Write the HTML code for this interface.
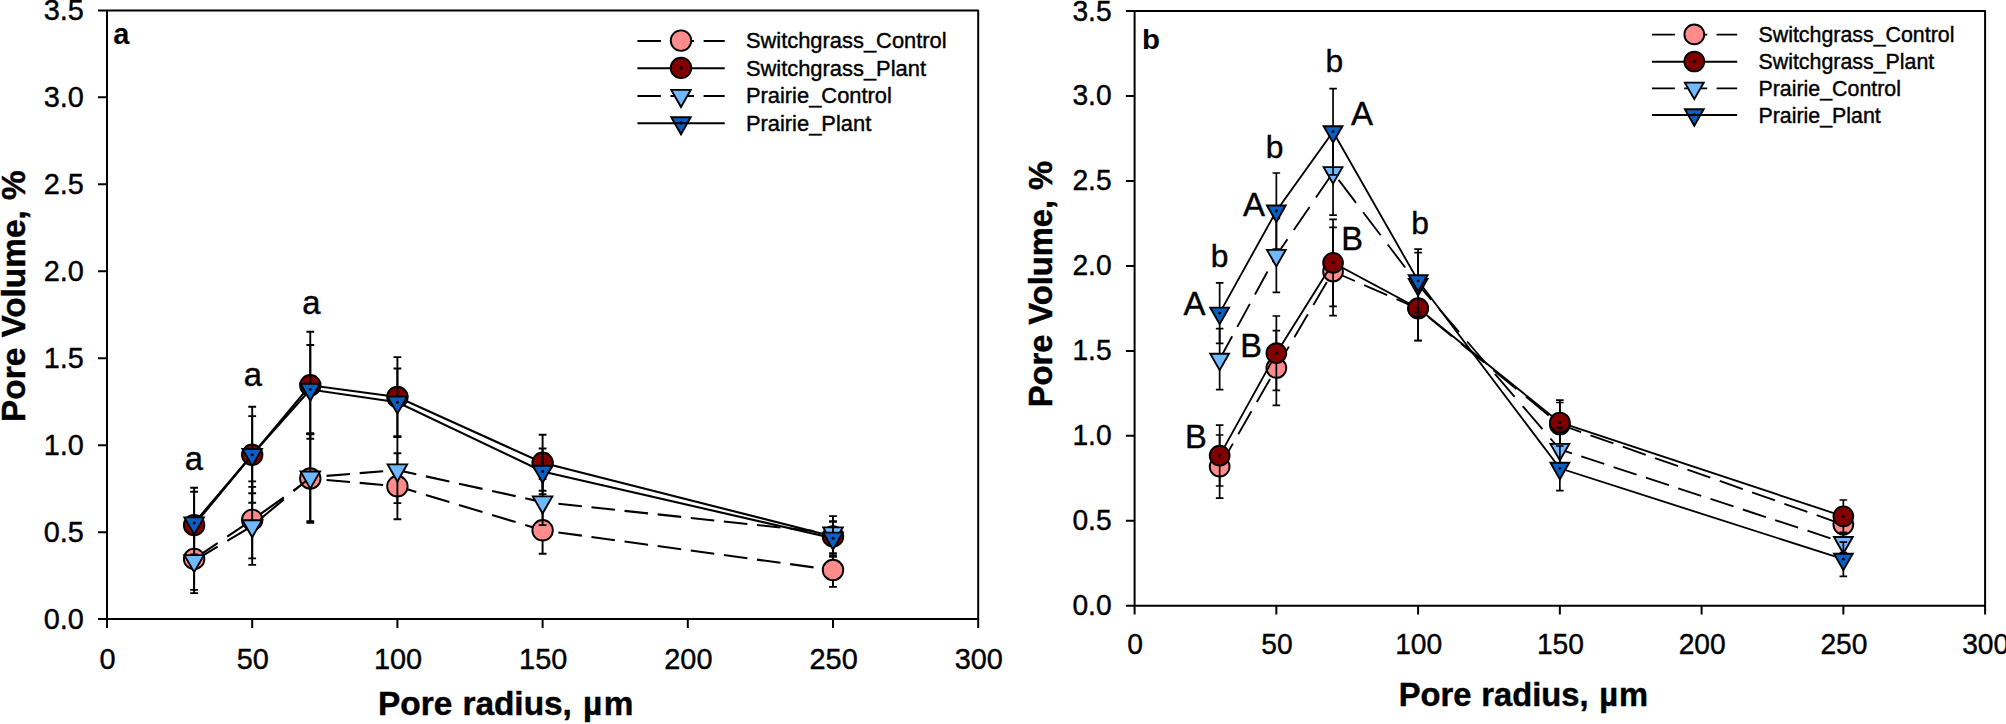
<!DOCTYPE html>
<html lang="en"><head><meta charset="utf-8"><title>Pore volume vs pore radius</title>
<style>html,body{margin:0;padding:0;background:#fff;overflow:hidden}svg{display:block;font-family:"Liberation Sans",Arial,Helvetica,sans-serif}</style></head><body>
<svg width="2006" height="724" viewBox="0 0 2006 724">
<rect width="2006" height="724" fill="#fff"/>
<g>
<path d="M107 10.4H978.2V619.1H107ZM98 619.1H107M98 532.14H107M98 445.19H107M98 358.23H107M98 271.27H107M98 184.31H107M98 97.36H107M98 10.4H107M107 619.1V628.1M252.2 619.1V628.1M397.4 619.1V628.1M542.6 619.1V628.1M687.8 619.1V628.1M833 619.1V628.1M978.2 619.1V628.1" fill="none" stroke="#000" stroke-width="2" stroke-linejoin="round"/>
<g font-size="28.9" fill="#000" stroke="#000" stroke-width="0.4">
<text transform="translate(83.8 628.6) scale(1 1.04)" text-anchor="end">0.0</text>
<text transform="translate(83.8 541.64) scale(1 1.04)" text-anchor="end">0.5</text>
<text transform="translate(83.8 454.69) scale(1 1.04)" text-anchor="end">1.0</text>
<text transform="translate(83.8 367.73) scale(1 1.04)" text-anchor="end">1.5</text>
<text transform="translate(83.8 280.77) scale(1 1.04)" text-anchor="end">2.0</text>
<text transform="translate(83.8 193.81) scale(1 1.04)" text-anchor="end">2.5</text>
<text transform="translate(83.8 106.86) scale(1 1.04)" text-anchor="end">3.0</text>
<text transform="translate(83.8 19.9) scale(1 1.04)" text-anchor="end">3.5</text>
<text transform="translate(107.6 668.9) scale(1 1.04)" text-anchor="middle">0</text>
<text transform="translate(252.8 668.9) scale(1 1.04)" text-anchor="middle">50</text>
<text transform="translate(398 668.9) scale(1 1.04)" text-anchor="middle">100</text>
<text transform="translate(543.2 668.9) scale(1 1.04)" text-anchor="middle">150</text>
<text transform="translate(688.4 668.9) scale(1 1.04)" text-anchor="middle">200</text>
<text transform="translate(833.6 668.9) scale(1 1.04)" text-anchor="middle">250</text>
<text transform="translate(978.8 668.9) scale(1 1.04)" text-anchor="middle">300</text>
</g>
<text x="378.1" y="715.2" font-size="33.4" font-weight="bold" stroke="#000" stroke-width="0.45" word-spacing="0.8">Pore radius, <tspan dx="1">µ</tspan><tspan dx="1.5">m</tspan></text>
<text transform="translate(25.2 421.9) rotate(-90)" font-size="33.4" font-weight="bold" stroke="#000" stroke-width="0.45" word-spacing="0.8">Pore Volume, %</text>
<text transform="translate(113.2 43.8) scale(1 1)" font-size="29" font-weight="bold">a</text>
<g>
<path d="M194.12 558.9L217.62 543.12M227.23 536.67L250.73 520.89M260.34 514.1L283.84 497.35M293.45 490.5L310.28 478.5M310.28 478.5L316.95 479.1M326.56 479.96L350.06 482.06M359.67 482.92L383.17 485.03M392.78 485.89L397.4 486.3M397.4 486.3L416.28 492.02M425.89 494.93L449.39 502.05M459 504.97L482.5 512.09M492.11 515L515.61 522.12M525.22 525.03L542.6 530.3M542.6 530.3L548.72 531.14M558.33 532.45L581.83 535.66M591.44 536.98L614.94 540.19M624.55 541.5L648.05 544.72M657.66 546.03L681.16 549.24M690.77 550.56L714.27 553.77M723.88 555.08L747.38 558.3M756.99 559.61L780.49 562.82M790.1 564.14L813.6 567.35M823.21 568.66L833 570" fill="none" stroke="#000" stroke-width="2.1"/>
<path d="M194.12 527.9V589.9M190.22 527.9H198.02M190.22 589.9H198.02M252.2 481.4V558.4M248.3 481.4H256.1M248.3 558.4H256.1M310.28 434.2V522.8M306.38 434.2H314.18M306.38 522.8H314.18M397.4 453.3V519.3M393.5 453.3H401.3M393.5 519.3H401.3M542.6 506.9V553.7M538.7 506.9H546.5M538.7 553.7H546.5M833 553.1V586.9M829.1 553.1H836.9M829.1 586.9H836.9" fill="none" stroke="#000" stroke-width="1.9"/>
<circle cx="194.12" cy="558.9" r="10.25" fill="#ff8c8c" stroke="#000" stroke-width="1.9"/>
<circle cx="252.2" cy="519.9" r="10.25" fill="#ff8c8c" stroke="#000" stroke-width="1.9"/>
<circle cx="310.28" cy="478.5" r="10.25" fill="#ff8c8c" stroke="#000" stroke-width="1.9"/>
<circle cx="397.4" cy="486.3" r="10.25" fill="#ff8c8c" stroke="#000" stroke-width="1.9"/>
<circle cx="542.6" cy="530.3" r="10.25" fill="#ff8c8c" stroke="#000" stroke-width="1.9"/>
<circle cx="833" cy="570" r="10.25" fill="#ff8c8c" stroke="#000" stroke-width="1.9"/>
</g>
<g>
<path d="M194.12 525.2L252.2 454.8L310.28 385.3L397.4 397L542.6 462.8L833 536.4" fill="none" stroke="#000" stroke-width="2.1"/>
<path d="M194.12 487.8V562.6M190.22 487.8H198.02M190.22 562.6H198.02M252.2 406.8V502.8M248.3 406.8H256.1M248.3 502.8H256.1M310.28 331.8V438.8M306.38 331.8H314.18M306.38 438.8H314.18M397.4 357.1V436.9M393.5 357.1H401.3M393.5 436.9H401.3M542.6 434.8V490.8M538.7 434.8H546.5M538.7 490.8H546.5M833 516.1V556.7M829.1 516.1H836.9M829.1 556.7H836.9" fill="none" stroke="#000" stroke-width="1.9"/>
<circle cx="194.12" cy="525.2" r="10.25" fill="#800000" stroke="#000" stroke-width="1.9"/><circle cx="194.12" cy="525.2" r="1.5" fill="#000"/>
<circle cx="252.2" cy="454.8" r="10.25" fill="#800000" stroke="#000" stroke-width="1.9"/><circle cx="252.2" cy="454.8" r="1.5" fill="#000"/>
<circle cx="310.28" cy="385.3" r="10.25" fill="#800000" stroke="#000" stroke-width="1.9"/><circle cx="310.28" cy="385.3" r="1.5" fill="#000"/>
<circle cx="397.4" cy="397" r="10.25" fill="#800000" stroke="#000" stroke-width="1.9"/><circle cx="397.4" cy="397" r="1.5" fill="#000"/>
<circle cx="542.6" cy="462.8" r="10.25" fill="#800000" stroke="#000" stroke-width="1.9"/><circle cx="542.6" cy="462.8" r="1.5" fill="#000"/>
<circle cx="833" cy="536.4" r="10.25" fill="#800000" stroke="#000" stroke-width="1.9"/><circle cx="833" cy="536.4" r="1.5" fill="#000"/>
</g>
<g>
<path d="M194.12 560.8L217.62 546.68M227.23 540.9L250.73 526.78M260.34 519.07L283.84 499.37M293.45 491.31L310.28 477.2M310.28 477.2L316.95 476.66M326.56 475.87L350.06 473.96M359.67 473.17L383.17 471.26M392.78 470.48L397.4 470.1M397.4 470.1L416.28 474.26M425.89 476.38L449.39 481.56M459 483.68L482.5 488.85M492.11 490.97L515.61 496.15M525.22 498.27L542.6 502.1M542.6 502.1L548.72 502.75M558.33 503.78L581.83 506.29M591.44 507.31L614.94 509.82M624.55 510.85L648.05 513.36M657.66 514.38L681.16 516.89M690.77 517.92L714.27 520.43M723.88 521.45L747.38 523.96M756.99 524.99L780.49 527.49M790.1 528.52L813.6 531.03M823.21 532.05L833 533.1" fill="none" stroke="#000" stroke-width="2.1"/>
<path d="M194.12 528.5V593.1M190.22 528.5H198.02M190.22 593.1H198.02M252.2 486.9V564.9M248.3 486.9H256.1M248.3 564.9H256.1M310.28 433.3V521.1M306.38 433.3H314.18M306.38 521.1H314.18M397.4 437.1V503.1M393.5 437.1H401.3M393.5 503.1H401.3M542.6 479.1V525.1M538.7 479.1H546.5M538.7 525.1H546.5M833 521.5V544.7M829.1 521.5H836.9M829.1 544.7H836.9" fill="none" stroke="#000" stroke-width="1.9"/>
<path d="M184.37 555.1L203.87 555.1L194.12 572.2Z" fill="#70b8ff" stroke="#000" stroke-width="1.9" stroke-linejoin="miter"/>
<path d="M242.45 520.2L261.95 520.2L252.2 537.3Z" fill="#70b8ff" stroke="#000" stroke-width="1.9" stroke-linejoin="miter"/>
<path d="M300.53 471.5L320.03 471.5L310.28 488.6Z" fill="#70b8ff" stroke="#000" stroke-width="1.9" stroke-linejoin="miter"/>
<path d="M387.65 464.4L407.15 464.4L397.4 481.5Z" fill="#70b8ff" stroke="#000" stroke-width="1.9" stroke-linejoin="miter"/>
<path d="M532.85 496.4L552.35 496.4L542.6 513.5Z" fill="#70b8ff" stroke="#000" stroke-width="1.9" stroke-linejoin="miter"/>
<path d="M823.25 527.4L842.75 527.4L833 544.5Z" fill="#70b8ff" stroke="#000" stroke-width="1.9" stroke-linejoin="miter"/>
</g>
<g>
<path d="M194.12 523.1L252.2 454.7L310.28 389.5L397.4 402.3L542.6 471.4L833 538.3" fill="none" stroke="#000" stroke-width="2.1"/>
<path d="M194.12 491.8V554.4M190.22 491.8H198.02M190.22 554.4H198.02M252.2 416.1V493.3M248.3 416.1H256.1M248.3 493.3H256.1M310.28 345V434M306.38 345H314.18M306.38 434H314.18M397.4 368.5V436.1M393.5 368.5H401.3M393.5 436.1H401.3M542.6 448.5V494.3M538.7 448.5H546.5M538.7 494.3H546.5M833 521.5V555.1M829.1 521.5H836.9M829.1 555.1H836.9" fill="none" stroke="#000" stroke-width="1.9"/>
<path d="M184.37 517.4L203.87 517.4L194.12 534.5Z" fill="#0a5fc2" stroke="#000" stroke-width="1.9" stroke-linejoin="miter"/><circle cx="194.12" cy="523.1" r="1.5" fill="#000"/>
<path d="M242.45 449L261.95 449L252.2 466.1Z" fill="#0a5fc2" stroke="#000" stroke-width="1.9" stroke-linejoin="miter"/><circle cx="252.2" cy="454.7" r="1.5" fill="#000"/>
<path d="M300.53 383.8L320.03 383.8L310.28 400.9Z" fill="#0a5fc2" stroke="#000" stroke-width="1.9" stroke-linejoin="miter"/><circle cx="310.28" cy="389.5" r="1.5" fill="#000"/>
<path d="M387.65 396.6L407.15 396.6L397.4 413.7Z" fill="#0a5fc2" stroke="#000" stroke-width="1.9" stroke-linejoin="miter"/><circle cx="397.4" cy="402.3" r="1.5" fill="#000"/>
<path d="M532.85 465.7L552.35 465.7L542.6 482.8Z" fill="#0a5fc2" stroke="#000" stroke-width="1.9" stroke-linejoin="miter"/><circle cx="542.6" cy="471.4" r="1.5" fill="#000"/>
<path d="M823.25 532.6L842.75 532.6L833 549.7Z" fill="#0a5fc2" stroke="#000" stroke-width="1.9" stroke-linejoin="miter"/><circle cx="833" cy="538.3" r="1.5" fill="#000"/>
</g>
<g font-size="21.9" stroke="#000" stroke-width="0.4">
<path d="M637.4 41L660.9 41M670.51 41L694.01 41M703.62 41L724.7 41" fill="none" stroke="#000" stroke-width="2.1"/>
<circle cx="681" cy="40.6" r="10.25" fill="#ff8c8c" stroke="#000" stroke-width="1.9"/>
<text x="745.9" y="48.3">Switchgrass_Control</text>
<path d="M637.4 68.3H724.7" fill="none" stroke="#000" stroke-width="2.1"/>
<circle cx="681" cy="67.9" r="10.25" fill="#800000" stroke="#000" stroke-width="1.9"/><circle cx="681" cy="67.9" r="1.5" fill="#000"/>
<text x="745.9" y="75.6">Switchgrass_Plant</text>
<path d="M637.4 96L660.9 96M670.51 96L694.01 96M703.62 96L724.7 96" fill="none" stroke="#000" stroke-width="2.1"/>
<path d="M671.25 89.9L690.75 89.9L681 107Z" fill="#70b8ff" stroke="#000" stroke-width="1.9" stroke-linejoin="miter"/>
<text x="745.9" y="103.3">Prairie_Control</text>
<path d="M671.25 117.2L690.75 117.2L681 134.3Z" fill="#0a5fc2" stroke="#000" stroke-width="1.9" stroke-linejoin="miter"/><circle cx="681" cy="122.9" r="1.5" fill="#000"/>
<path d="M637.4 123.3H724.7" fill="none" stroke="#000" stroke-width="2.1"/>
<text x="745.9" y="130.6">Prairie_Plant</text>
</g>
<text x="193.8" y="469.9" font-size="32.8" text-anchor="middle" stroke="#000" stroke-width="0.4">a</text>
<text x="252.8" y="385.7" font-size="32.8" text-anchor="middle" stroke="#000" stroke-width="0.4">a</text>
<text x="311.3" y="314.4" font-size="32.8" text-anchor="middle" stroke="#000" stroke-width="0.4">a</text>
</g>
<g>
<path d="M1134.6 11H1985.1V605.8H1134.6ZM1125.9 605.8H1134.6M1125.9 520.83H1134.6M1125.9 435.86H1134.6M1125.9 350.89H1134.6M1125.9 265.91H1134.6M1125.9 180.94H1134.6M1125.9 95.97H1134.6M1125.9 11H1134.6M1134.6 605.8V614.5M1276.35 605.8V614.5M1418.1 605.8V614.5M1559.85 605.8V614.5M1701.6 605.8V614.5M1843.35 605.8V614.5M1985.1 605.8V614.5" fill="none" stroke="#000" stroke-width="2" stroke-linejoin="round"/>
<g font-size="28.2" fill="#000" stroke="#000" stroke-width="0.4">
<text transform="translate(1111.6 615.3) scale(1 1.03)" text-anchor="end">0.0</text>
<text transform="translate(1111.6 530.33) scale(1 1.03)" text-anchor="end">0.5</text>
<text transform="translate(1111.6 445.36) scale(1 1.03)" text-anchor="end">1.0</text>
<text transform="translate(1111.6 360.39) scale(1 1.03)" text-anchor="end">1.5</text>
<text transform="translate(1111.6 275.41) scale(1 1.03)" text-anchor="end">2.0</text>
<text transform="translate(1111.6 190.44) scale(1 1.03)" text-anchor="end">2.5</text>
<text transform="translate(1111.6 105.47) scale(1 1.03)" text-anchor="end">3.0</text>
<text transform="translate(1111.6 20.5) scale(1 1.03)" text-anchor="end">3.5</text>
<text transform="translate(1135.2 653.9) scale(1 1.03)" text-anchor="middle">0</text>
<text transform="translate(1276.95 653.9) scale(1 1.03)" text-anchor="middle">50</text>
<text transform="translate(1418.7 653.9) scale(1 1.03)" text-anchor="middle">100</text>
<text transform="translate(1560.45 653.9) scale(1 1.03)" text-anchor="middle">150</text>
<text transform="translate(1702.2 653.9) scale(1 1.03)" text-anchor="middle">200</text>
<text transform="translate(1843.95 653.9) scale(1 1.03)" text-anchor="middle">250</text>
<text transform="translate(1985.7 653.9) scale(1 1.03)" text-anchor="middle">300</text>
</g>
<text x="1398.8" y="705.6" font-size="32.7" font-weight="bold" stroke="#000" stroke-width="0.45" word-spacing="0.8">Pore radius, <tspan dx="0.8">µ</tspan><tspan dx="1">m</tspan></text>
<text transform="translate(1052.1 407.2) rotate(-90)" font-size="32.7" font-weight="bold" stroke="#000" stroke-width="0.45" word-spacing="0.8">Pore Volume, %</text>
<text transform="translate(1142 48.8) scale(1 0.93)" font-size="29.4" font-weight="bold">b</text>
<g>
<path d="M1219.65 466.6L1232.88 443.6M1238.24 434.28L1251.46 411.28M1256.82 401.96L1270.05 378.96M1275.41 369.64L1276.35 368M1276.35 368L1288.9 346.64M1294.38 337.32L1307.89 314.32M1313.37 305L1326.88 282M1332.36 272.68L1333.05 271.5M1333.05 271.5L1354.87 281.02M1364.19 285.08L1387.19 295.12M1396.51 299.18L1418.1 308.6M1418.1 308.6L1419.51 309.75M1428.83 317.37L1451.83 336.18M1461.15 343.8L1484.15 362.6M1493.47 370.23L1516.47 389.03M1525.79 396.65L1548.79 415.46M1558.11 423.08L1559.85 424.5M1559.85 424.5L1581.11 432.01M1590.43 435.3L1613.43 443.42M1622.75 446.71L1645.75 454.83M1655.07 458.12L1678.07 466.24M1687.39 469.53L1710.39 477.65M1719.71 480.94L1742.71 489.07M1752.03 492.36L1775.03 500.48M1784.35 503.77L1807.35 511.89M1816.67 515.18L1839.67 523.3" fill="none" stroke="#000" stroke-width="1.85"/>
<path d="M1219.65 435V498.2M1215.85 435H1223.45M1215.85 498.2H1223.45M1276.35 330.6V405.4M1272.55 330.6H1280.15M1272.55 405.4H1280.15M1333.05 227.4V315.6M1329.25 227.4H1336.85M1329.25 315.6H1336.85M1418.1 276.6V340.6M1414.3 276.6H1421.9M1414.3 340.6H1421.9M1559.85 402.5V446.5M1556.05 402.5H1563.65M1556.05 446.5H1563.65M1843.35 512.6V536.6M1839.55 512.6H1847.15M1839.55 536.6H1847.15" fill="none" stroke="#000" stroke-width="1.7"/>
<circle cx="1219.65" cy="466.6" r="9.9" fill="#ff8c8c" stroke="#000" stroke-width="1.9"/>
<circle cx="1276.35" cy="368" r="9.9" fill="#ff8c8c" stroke="#000" stroke-width="1.9"/>
<circle cx="1333.05" cy="271.5" r="9.9" fill="#ff8c8c" stroke="#000" stroke-width="1.9"/>
<circle cx="1418.1" cy="308.6" r="9.9" fill="#ff8c8c" stroke="#000" stroke-width="1.9"/>
<circle cx="1559.85" cy="424.5" r="9.9" fill="#ff8c8c" stroke="#000" stroke-width="1.9"/>
<circle cx="1843.35" cy="524.6" r="9.9" fill="#ff8c8c" stroke="#000" stroke-width="1.9"/>
</g>
<g>
<path d="M1219.65 455.6L1276.35 353.2L1333.05 262.8L1418.1 308.2L1559.85 422.5L1843.35 516.3" fill="none" stroke="#000" stroke-width="1.85"/>
<path d="M1219.65 425.2V486M1215.85 425.2H1223.45M1215.85 486H1223.45M1276.35 316V390.4M1272.55 316H1280.15M1272.55 390.4H1280.15M1333.05 219.3V306.3M1329.25 219.3H1336.85M1329.25 306.3H1336.85M1418.1 275.9V340.5M1414.3 275.9H1421.9M1414.3 340.5H1421.9M1559.85 400.1V444.9M1556.05 400.1H1563.65M1556.05 444.9H1563.65M1843.35 500V532.6M1839.55 500H1847.15M1839.55 532.6H1847.15" fill="none" stroke="#000" stroke-width="1.7"/>
<circle cx="1219.65" cy="455.6" r="9.9" fill="#800000" stroke="#000" stroke-width="1.9"/><circle cx="1219.65" cy="455.6" r="1.4" fill="#000"/>
<circle cx="1276.35" cy="353.2" r="9.9" fill="#800000" stroke="#000" stroke-width="1.9"/><circle cx="1276.35" cy="353.2" r="1.4" fill="#000"/>
<circle cx="1333.05" cy="262.8" r="9.9" fill="#800000" stroke="#000" stroke-width="1.9"/><circle cx="1333.05" cy="262.8" r="1.4" fill="#000"/>
<circle cx="1418.1" cy="308.2" r="9.9" fill="#800000" stroke="#000" stroke-width="1.9"/><circle cx="1418.1" cy="308.2" r="1.4" fill="#000"/>
<circle cx="1559.85" cy="422.5" r="9.9" fill="#800000" stroke="#000" stroke-width="1.9"/><circle cx="1559.85" cy="422.5" r="1.4" fill="#000"/>
<circle cx="1843.35" cy="516.3" r="9.9" fill="#800000" stroke="#000" stroke-width="1.9"/><circle cx="1843.35" cy="516.3" r="1.4" fill="#000"/>
</g>
<g>
<path d="M1219.65 359.2L1232.21 336.2M1237.3 326.88L1249.87 303.88M1254.96 294.56L1267.52 271.56M1272.61 262.24L1276.35 255.4M1276.35 255.4L1287.42 239.24M1293.8 229.92L1309.55 206.92M1315.93 197.6L1331.68 174.6M1338.61 179.92L1356.09 202.92M1363.18 212.24L1380.66 235.24M1387.74 244.56L1405.22 267.56M1412.31 276.88L1418.1 284.5M1418.1 284.5L1431.32 299.88M1439.33 309.2L1459.1 332.2M1467.12 341.52L1486.89 364.52M1494.9 373.84L1514.67 396.84M1522.68 406.16L1542.45 429.16M1550.46 438.48L1559.85 449.4M1559.85 449.4L1571.93 453.37M1581.25 456.43L1604.25 463.98M1613.57 467.04L1636.57 474.59M1645.89 477.66L1668.89 485.21M1678.21 488.27L1701.21 495.82M1710.53 498.88L1733.53 506.44M1742.85 509.5L1765.85 517.05M1775.17 520.11L1798.17 527.66M1807.49 530.72L1830.49 538.28M1839.81 541.34L1843.35 542.5" fill="none" stroke="#000" stroke-width="1.85"/>
<path d="M1219.65 328.7V389.7M1215.85 328.7H1223.45M1215.85 389.7H1223.45M1276.35 218.4V292.4M1272.55 218.4H1280.15M1272.55 292.4H1280.15M1333.05 130V215.2M1329.25 130H1336.85M1329.25 215.2H1336.85M1418.1 252.7V316.3M1414.3 252.7H1421.9M1414.3 316.3H1421.9M1559.85 427.6V471.2M1556.05 427.6H1563.65M1556.05 471.2H1563.65M1843.35 532.5V552.5M1839.55 532.5H1847.15M1839.55 552.5H1847.15" fill="none" stroke="#000" stroke-width="1.7"/>
<path d="M1210.25 353.7L1229.05 353.7L1219.65 370.2Z" fill="#70b8ff" stroke="#000" stroke-width="1.9" stroke-linejoin="miter"/>
<path d="M1266.95 249.9L1285.75 249.9L1276.35 266.4Z" fill="#70b8ff" stroke="#000" stroke-width="1.9" stroke-linejoin="miter"/>
<path d="M1323.65 167.1L1342.45 167.1L1333.05 183.6Z" fill="#70b8ff" stroke="#000" stroke-width="1.9" stroke-linejoin="miter"/>
<path d="M1408.7 279L1427.5 279L1418.1 295.5Z" fill="#70b8ff" stroke="#000" stroke-width="1.9" stroke-linejoin="miter"/>
<path d="M1550.45 443.9L1569.25 443.9L1559.85 460.4Z" fill="#70b8ff" stroke="#000" stroke-width="1.9" stroke-linejoin="miter"/>
<path d="M1833.95 537L1852.75 537L1843.35 553.5Z" fill="#70b8ff" stroke="#000" stroke-width="1.9" stroke-linejoin="miter"/>
</g>
<g>
<path d="M1219.65 313.1L1276.35 211L1333.05 131.7L1418.1 280.8L1559.85 468.3L1843.35 559.2" fill="none" stroke="#000" stroke-width="1.85"/>
<path d="M1219.65 282.9V343.3M1215.85 282.9H1223.45M1215.85 343.3H1223.45M1276.35 173V249M1272.55 173H1280.15M1272.55 249H1280.15M1333.05 88.6V174.8M1329.25 88.6H1336.85M1329.25 174.8H1336.85M1418.1 249.2V312.4M1414.3 249.2H1421.9M1414.3 312.4H1421.9M1559.85 446V490.6M1556.05 446H1563.65M1556.05 490.6H1563.65M1843.35 542.1V576.3M1839.55 542.1H1847.15M1839.55 576.3H1847.15" fill="none" stroke="#000" stroke-width="1.7"/>
<path d="M1210.25 307.6L1229.05 307.6L1219.65 324.1Z" fill="#0a5fc2" stroke="#000" stroke-width="1.9" stroke-linejoin="miter"/><circle cx="1219.65" cy="313.1" r="1.4" fill="#000"/>
<path d="M1266.95 205.5L1285.75 205.5L1276.35 222Z" fill="#0a5fc2" stroke="#000" stroke-width="1.9" stroke-linejoin="miter"/><circle cx="1276.35" cy="211" r="1.4" fill="#000"/>
<path d="M1323.65 126.2L1342.45 126.2L1333.05 142.7Z" fill="#0a5fc2" stroke="#000" stroke-width="1.9" stroke-linejoin="miter"/><circle cx="1333.05" cy="131.7" r="1.4" fill="#000"/>
<path d="M1408.7 275.3L1427.5 275.3L1418.1 291.8Z" fill="#0a5fc2" stroke="#000" stroke-width="1.9" stroke-linejoin="miter"/><circle cx="1418.1" cy="280.8" r="1.4" fill="#000"/>
<path d="M1550.45 462.8L1569.25 462.8L1559.85 479.3Z" fill="#0a5fc2" stroke="#000" stroke-width="1.9" stroke-linejoin="miter"/><circle cx="1559.85" cy="468.3" r="1.4" fill="#000"/>
<path d="M1833.95 553.7L1852.75 553.7L1843.35 570.2Z" fill="#0a5fc2" stroke="#000" stroke-width="1.9" stroke-linejoin="miter"/><circle cx="1843.35" cy="559.2" r="1.4" fill="#000"/>
</g>
<g font-size="21.36" stroke="#000" stroke-width="0.4">
<path d="M1651.9 34.6L1674.9 34.6M1684.22 34.6L1707.22 34.6M1716.54 34.6L1737.2 34.6" fill="none" stroke="#000" stroke-width="1.85"/>
<circle cx="1694.3" cy="34.4" r="9.9" fill="#ff8c8c" stroke="#000" stroke-width="1.9"/>
<text x="1758.5" y="42.2">Switchgrass_Control</text>
<path d="M1651.9 61.7H1737.2" fill="none" stroke="#000" stroke-width="1.85"/>
<circle cx="1694.3" cy="61.5" r="9.9" fill="#800000" stroke="#000" stroke-width="1.9"/><circle cx="1694.3" cy="61.5" r="1.4" fill="#000"/>
<text x="1758.5" y="69.3">Switchgrass_Plant</text>
<path d="M1651.9 88.3L1674.9 88.3M1684.22 88.3L1707.22 88.3M1716.54 88.3L1737.2 88.3" fill="none" stroke="#000" stroke-width="1.85"/>
<path d="M1684.9 82.6L1703.7 82.6L1694.3 99.1Z" fill="#70b8ff" stroke="#000" stroke-width="1.9" stroke-linejoin="miter"/>
<text x="1758.5" y="95.9">Prairie_Control</text>
<path d="M1684.9 109.3L1703.7 109.3L1694.3 125.8Z" fill="#0a5fc2" stroke="#000" stroke-width="1.9" stroke-linejoin="miter"/><circle cx="1694.3" cy="114.8" r="1.4" fill="#000"/>
<path d="M1651.9 115H1737.2" fill="none" stroke="#000" stroke-width="1.85"/>
<text x="1758.5" y="122.6">Prairie_Plant</text>
</g>
<text x="1219.6" y="266.8" font-size="31.8" text-anchor="middle" stroke="#000" stroke-width="0.4">b</text>
<text x="1274.7" y="158.2" font-size="31.8" text-anchor="middle" stroke="#000" stroke-width="0.4">b</text>
<text x="1334.3" y="71.5" font-size="31.8" text-anchor="middle" stroke="#000" stroke-width="0.4">b</text>
<text x="1420" y="233.6" font-size="31.8" text-anchor="middle" stroke="#000" stroke-width="0.4">b</text>
<text x="1194.5" y="315.2" font-size="33" text-anchor="middle" stroke="#000" stroke-width="0.4">A</text>
<text x="1254" y="215.7" font-size="33" text-anchor="middle" stroke="#000" stroke-width="0.4">A</text>
<text x="1362" y="124.7" font-size="33" text-anchor="middle" stroke="#000" stroke-width="0.4">A</text>
<text x="1195.8" y="448.4" font-size="32.6" text-anchor="middle" stroke="#000" stroke-width="0.4">B</text>
<text x="1251.2" y="357.1" font-size="32.6" text-anchor="middle" stroke="#000" stroke-width="0.4">B</text>
<text x="1352" y="249.6" font-size="32.6" text-anchor="middle" stroke="#000" stroke-width="0.4">B</text>
</g>
</svg></body></html>
